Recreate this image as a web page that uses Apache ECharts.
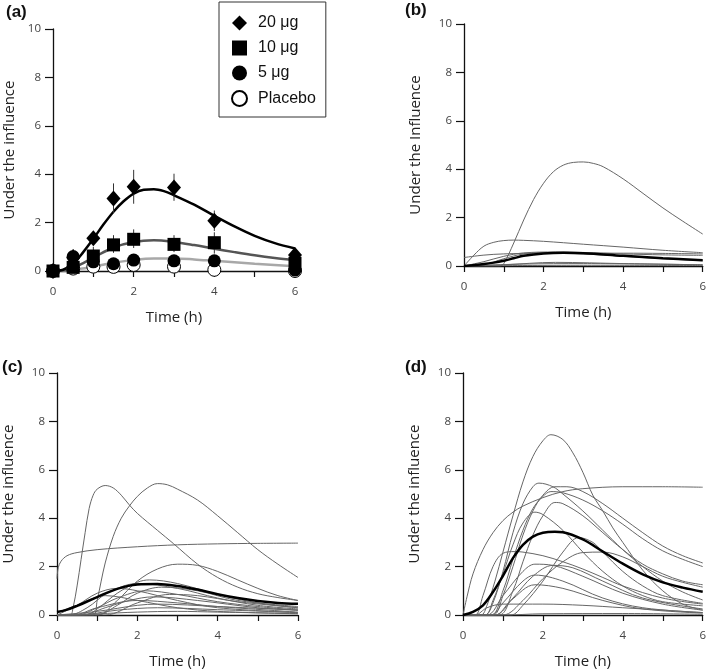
<!DOCTYPE html>
<html>
<head>
<meta charset="utf-8">
<script src="https://cdn.jsdelivr.net/npm/echarts@6/dist/echarts.min.js"></script>
<style>
html,body{margin:0;padding:0;background:#fff;}
#chart{width:709px;height:672px;}
</style>
</head>
<body>
<div id="chart"></div>
<script>
// ---------- Panel (a): observed means ----------
const timesA = [0, 0.5, 1, 1.5, 2, 3, 4, 6];
const dose20 = [0, 0.55, 1.35, 3.0, 3.48, 3.45, 2.08, 0.66];
const dose20Low = [0, 0.3, 1.1, 2.4, 2.78, 2.9, 1.65, 0.45];
const dose20High = [0, 0.9, 1.6, 3.62, 4.18, 4.02, 2.5, 0.85];
const dose10 = [0, 0.15, 0.62, 1.08, 1.31, 1.1, 1.17, 0.32];
const dose10Low = [0, 0.05, 0.3, 0.75, 0.95, 0.78, 0.72, 0.15];
const dose10High = [0, 0.3, 1.0, 1.48, 1.72, 1.48, 1.6, 0.5];
const dose5 = [0, 0.6, 0.38, 0.3, 0.45, 0.42, 0.42, 0.04];
const dose5Low = [0, 0.45, 0.2, 0.15, 0.28, 0.25, 0.25, 0.0];
const dose5High = [0, 0.9, 0.55, 0.45, 0.62, 0.6, 0.6, 0.15];
const placebo = [0, 0.1, 0.18, 0.17, 0.25, 0.18, 0.05, 0.0];
const placeboLow = [0, 0.05, 0.08, 0.08, 0.12, 0.08, 0.0, 0.0];
const placeboHigh = [0, 0.15, 0.28, 0.26, 0.38, 0.28, 0.12, 0.05];

// ---------- Panel (a): fitted curves [time, value] ----------
const fit20 = [[0,0],[0.25,0.05],[0.5,0.3],[0.75,0.78],[1,1.33],[1.25,1.92],[1.5,2.45],[1.75,2.88],[2,3.2],[2.25,3.36],[2.5,3.38],[2.75,3.3],[3,3.13],[3.5,2.74],[4,2.28],[4.5,1.84],[5,1.45],[5.5,1.15],[6,0.93]];
const fit10 = [[0,0],[0.25,0.03],[0.5,0.13],[0.75,0.33],[1,0.55],[1.5,0.97],[2,1.2],[2.5,1.27],[3,1.2],[3.5,1.07],[4,0.92],[4.5,0.78],[5,0.65],[5.5,0.54],[6,0.45]];
const fit5 = [[0,0],[0.5,0.05],[1,0.18],[1.5,0.34],[2,0.46],[2.5,0.52],[3,0.52],[3.5,0.48],[4,0.42],[5,0.3],[6,0.2]];

// ---------- Panel (b): individual curves ----------
const curvesB = [
  [[0,0],[0.9,0],[1,0.1],[1.25,0.95],[1.5,1.9],[1.75,2.75],[2,3.42],[2.25,3.9],[2.5,4.17],[2.75,4.28],[3,4.3],[3.25,4.24],[3.5,4.1],[4,3.6],[4.5,3.0],[5,2.4],[5.5,1.85],[6,1.32]],
  [[0,0],[0.25,0.45],[0.5,0.82],[0.75,0.98],[1,1.05],[1.25,1.07],[1.5,1.06],[2,1.02],[3,0.9],[4,0.78],[5,0.65],[6,0.55]],
  [[0,0.35],[0.5,0.45],[1,0.5],[2,0.53],[3,0.53],[4,0.53],[5,0.52],[6,0.5]],
  [[0,0],[0.5,0.18],[1,0.4],[1.5,0.54],[2.3,0.58],[3,0.56],[4,0.5],[5,0.46],[6,0.44]],
  [[0,0],[0.5,0.05],[1,0.3],[1.5,0.5],[2,0.55],[3,0.5],[4,0.4],[5,0.3],[6,0.22]],
  [[0,0],[1,0.05],[2.3,0.15],[4,0.1],[6,0.05]],
  [[0,0],[1.5,0.08],[3,0.1],[6,0.05]],
  [[0,0],[3,0.03],[6,0.02]]
];
const meanB = [[0,0],[0.5,0.08],[0.75,0.14],[1,0.22],[1.25,0.32],[1.5,0.42],[2,0.52],[2.5,0.55],[3,0.53],[4,0.42],[5,0.32],[6,0.24]];

// ---------- Panel (c): individual curves ----------
const curvesC = [
  [[0,0],[0.33,0],[0.4,0.3],[0.5,1.2],[0.6,2.3],[0.7,3.4],[0.8,4.4],[0.9,4.95],[1,5.2],[1.2,5.35],[1.4,5.25],[1.6,4.95],[1.8,4.55],[2,4.2],[2.5,3.5],[2.9,2.95],[3.5,2.1],[4,1.55],[4.5,1.15],[5,0.88],[5.5,0.72],[6,0.6]],
  [[0,0],[0.9,0],[1,0.6],[1.1,1.4],[1.2,2.15],[1.4,3.25],[1.6,4.0],[1.8,4.5],[2,4.9],[2.25,5.25],[2.5,5.43],[2.75,5.38],[3,5.2],[3.5,4.75],[4,4.1],[4.5,3.4],[5,2.7],[5.5,2.1],[6,1.55]],
  [[0,1.5],[0.03,1.95],[0.1,2.22],[0.25,2.45],[0.5,2.58],[1,2.7],[2,2.82],[3,2.9],[4,2.94],[5,2.96],[6,2.97]],
  [[0,0],[1,0],[1.5,0.6],[2,1.4],[2.5,1.9],[3,2.1],[3.5,2.05],[4,1.8],[4.5,1.45],[5,1.1],[5.5,0.8],[6,0.6]],
  [[0,0],[0.7,0],[1,0.25],[1.5,0.9],[2,1.35],[2.3,1.45],[3,1.3],[4,0.85],[5,0.5],[6,0.3]],
  [[0,0],[0.3,0],[0.75,0.3],[1.25,0.9],[2,1.3],[3,1.1],[4,0.7],[5,0.4],[6,0.25]],
  [[0,0],[0.5,0.4],[1,0.9],[1.5,1.1],[2,1.0],[3,0.6],[4,0.3],[6,0.1]],
  [[0,0],[1,0],[1.5,0.4],[2,0.9],[2.6,1.15],[3.5,1.0],[4.5,0.6],[6,0.35]],
  [[0,0],[0.5,0],[1,0.3],[1.5,0.7],[2.2,1.0],[3,0.85],[4,0.55],[5,0.35],[6,0.2]],
  [[0,0],[1.2,0],[2,0.5],[2.8,0.85],[3.5,0.8],[4.5,0.55],[6,0.3]],
  [[0,0],[0.6,0],[1.2,0.3],[1.8,0.6],[2.4,0.75],[3.5,0.6],[5,0.3],[6,0.2]],
  [[0,0],[0.4,0],[1,0.3],[2,0.6],[3,0.5],[4,0.35],[6,0.12]],
  [[0,0],[1,0.15],[2,0.4],[2.5,0.45],[4,0.35],[6,0.2]],
  [[0,0],[0.5,0],[1.5,0.2],[2.5,0.3],[4,0.22],[6,0.1]],
  [[0,0],[1,0.05],[2,0.12],[3,0.15],[4,0.12],[6,0.06]],
  [[0,0.1],[0.5,0.4],[1.2,0.8],[2,0.6],[3,0.3],[4,0.15],[6,0.05]]
];
const meanC = [[0,0.12],[0.25,0.22],[0.5,0.38],[1,0.74],[1.5,1.08],[2,1.26],[2.5,1.28],[3,1.2],[3.5,1.05],[4,0.86],[4.5,0.7],[5,0.58],[5.5,0.5],[6,0.46]];

// ---------- Panel (d): individual curves ----------
const curvesD = [
  [[0,0],[0.45,0],[0.6,0.4],[0.8,1.4],[1,2.6],[1.25,4.1],[1.5,5.5],[1.75,6.55],[2,7.2],[2.2,7.45],[2.5,7.25],[2.75,6.7],[3,5.9],[3.25,4.95],[3.5,4.3],[3.75,3.6],[4,3.0],[4.5,1.85],[5,1.0],[5.5,0.45],[6,0.2]],
  [[0,0],[0.1,0.75],[0.25,1.7],[0.5,2.7],[0.75,3.4],[1,3.9],[1.25,4.25],[1.5,4.5],[2,4.85],[2.5,5.1],[3,5.22],[4,5.3],[5,5.3],[6,5.28]],
  [[0,0],[0.55,0],[0.75,0.5],[1,1.8],[1.25,3.4],[1.5,4.6],[1.75,5.3],[1.9,5.45],[2.25,5.3],[2.5,5.0],[3,4.3],[3.5,3.5],[4,2.7],[4.5,2.0],[5,1.4],[5.5,0.95],[6,0.62]],
  [[0,0],[0.75,0],[1,0.8],[1.25,2.0],[1.5,3.3],[1.75,4.3],[2,4.95],[2.3,5.3],[2.6,5.3],[3,5.1],[3.5,4.6],[4,4.0],[4.5,3.4],[5,2.85],[5.5,2.45],[6,2.15]],
  [[0,0],[0.7,0],[1,1.0],[1.25,2.3],[1.5,3.5],[1.75,4.4],[2,4.9],[2.2,5.1],[2.5,5.05],[3,4.75],[3.5,4.3],[4,3.75],[4.5,3.15],[5,2.65],[5.5,2.3],[6,2.0]],
  [[0,0],[0.9,0],[1.25,1.0],[1.5,2.2],[1.75,3.3],[2,4.1],[2.3,4.65],[2.5,4.6],[3,4.1],[3.5,3.4],[4,2.7],[4.5,2.1],[5,1.7],[5.5,1.4],[6,1.25]],
  [[0,0],[0.55,0],[0.75,0.6],[1,1.7],[1.25,2.9],[1.5,3.8],[1.8,4.25],[2,4.15],[2.5,3.5],[3,2.6],[3.5,1.8],[4,1.2],[4.5,0.8],[5,0.55],[6,0.38]],
  [[0,0],[1.2,0],[1.5,0.4],[2,1.4],[2.5,2.6],[2.9,3.2],[3.25,3.0],[3.5,2.6],[4,1.8],[4.5,1.2],[5,0.8],[6,0.48]],
  [[0,0],[0.3,0],[0.5,0.8],[0.75,2.0],[1,2.55],[1.3,2.62],[1.5,2.6],[2,2.45],[2.5,2.2],[3,1.9],[3.5,1.55],[4,1.2],[5,0.7],[6,0.45]],
  [[0,0],[1,0],[1.5,0.6],[2,1.5],[2.5,2.2],[3,2.58],[3.5,2.6],[4,2.4],[4.5,2.0],[5,1.6],[5.5,1.35],[6,1.15]],
  [[0,0],[0.6,0],[1,0.8],[1.5,1.8],[1.8,2.1],[2.25,2.05],[3,1.6],[4,0.9],[5,0.45],[6,0.2]],
  [[0,0],[0.8,0],[1.25,0.7],[1.75,1.6],[2.25,2.05],[2.75,1.95],[3.5,1.4],[4.5,0.7],[6,0.25]],
  [[0,0],[0.7,0],[1,0.5],[1.5,1.4],[1.8,1.65],[2.5,1.4],[3.5,0.7],[4.5,0.3],[6,0.1]],
  [[0,0],[0.8,0],[1.2,0.6],[1.8,1.25],[2.5,1.1],[3.5,0.6],[4.5,0.25],[6,0.08]],
  [[0,0],[0.3,0],[0.6,0.3],[1,0.45],[2,0.45],[3,0.4],[4,0.3],[5,0.2],[6,0.1]],
  [[0,0],[1,0],[2,0.05],[4,0.06],[6,0.03]]
];
const meanD = [[0,0],[0.25,0.13],[0.5,0.4],[0.75,0.95],[1,1.62],[1.25,2.35],[1.5,2.9],[1.75,3.24],[2,3.4],[2.3,3.44],[2.5,3.42],[3,3.12],[3.5,2.62],[4,2.12],[4.5,1.68],[5,1.35],[5.5,1.13],[6,0.96]];

// ---------- Tick labels / texts ----------
const yTicks = [0, 2, 4, 6, 8, 10];
const xTickLabels = [0, 2, 4, 6];
const panelLabels = ['(a)', '(b)', '(c)', '(d)'];
const yTitles = ['Under the influence', 'Under the Influence', 'Under the influence', 'Under the influence'];
const xTitle = 'Time (h)';
const legendNames = ['20 μg', '10 μg', '5 μg', 'Placebo'];

// ---------- Layout ----------
const grids = [
  {left: 53, top: 29, width: 242, height: 242},
  {left: 464, top: 24, width: 242, height: 242},
  {left: 56, top: 373, width: 242, height: 242},
  {left: 463, top: 373, width: 242, height: 242}
];
const yNameGaps = [36, 41, 41, 41];
const labelPos = [[6, 4], [405, 2], [2, 359], [405, 359]];
const FONT = 'Open Sans';

const xAxes = grids.map((g, i) => ({
  type: 'value', gridIndex: i, min: 0, max: 6, interval: 1,
  name: xTitle, nameLocation: 'middle', nameGap: 39,
  nameTextStyle: {fontFamily: FONT, fontSize: 15, color: '#222'},
  axisLine: {lineStyle: {color: '#111', width: 1.3}},
  axisTick: {show: true, length: 6, lineStyle: {color: '#111', width: 1.2}},
  axisLabel: {fontFamily: FONT, fontSize: 11.5, color: '#444', margin: 15,
    formatter: v => xTickLabels.indexOf(v) >= 0 ? String(v) : ''},
  splitLine: {show: false}
}));
const yAxes = grids.map((g, i) => ({
  type: 'value', gridIndex: i, min: 0, max: 10, interval: 2,
  name: yTitles[i], nameLocation: 'middle', nameGap: yNameGaps[i],
  nameTextStyle: {fontFamily: FONT, fontSize: 15, color: '#222'},
  axisLine: {show: true, lineStyle: {color: '#111', width: 1.3}},
  axisTick: {show: true, length: 8, lineStyle: {color: '#111', width: 1.2}},
  axisLabel: {fontFamily: FONT, fontSize: 11.5, color: '#444', margin: 12,
    formatter: v => yTicks.indexOf(v) >= 0 ? String(v) : ''},
  splitLine: {show: false}
}));

const series = [];
function addLine(idx, data, color, width, z) {
  series.push({type: 'line', xAxisIndex: idx, yAxisIndex: idx, data: data,
    smooth: 0.35, showSymbol: false, silent: true, z: z || 2,
    lineStyle: {color: color, width: width, opacity: 1}});
}
// Panel a fitted curves
addLine(0, fit5, '#a8a8a8', 2.5, 2);
addLine(0, fit10, '#555555', 2.5, 2);
addLine(0, fit20, '#000000', 2.5, 3);

// Error bars
function errData(lo, hi) { return timesA.map((t, k) => [t, lo[k], hi[k]]); }
const errSets = [errData(placeboLow, placeboHigh), errData(dose5Low, dose5High), errData(dose10Low, dose10High), errData(dose20Low, dose20High)];
errSets.forEach(d => {
  series.push({type: 'custom', xAxisIndex: 0, yAxisIndex: 0, data: d, silent: true, z: 4,
    renderItem: (params, api) => {
      const p1 = api.coord([api.value(0), api.value(1)]);
      const p2 = api.coord([api.value(0), api.value(2)]);
      return {type: 'line', shape: {x1: p1[0], y1: p1[1], x2: p2[0], y2: p2[1]},
        style: {stroke: '#333', lineWidth: 1}};
    }
  });
});

function pts(vals) { return timesA.map((t, k) => [t, vals[k]]); }
series.push({type: 'scatter', name: legendNames[3], xAxisIndex: 0, yAxisIndex: 0, data: pts(placebo),
  symbol: 'circle', symbolSize: 13, z: 5, itemStyle: {color: '#fff', borderColor: '#000', borderWidth: 1, opacity: 1}});
series.push({type: 'scatter', name: legendNames[2], xAxisIndex: 0, yAxisIndex: 0, data: pts(dose5),
  symbol: 'circle', symbolSize: 13, z: 6, itemStyle: {color: '#000', opacity: 1}});
series.push({type: 'scatter', name: legendNames[1], xAxisIndex: 0, yAxisIndex: 0, data: pts(dose10),
  symbol: 'rect', symbolSize: 13, z: 7, itemStyle: {color: '#000', opacity: 1}});
series.push({type: 'scatter', name: legendNames[0], xAxisIndex: 0, yAxisIndex: 0, data: pts(dose20),
  symbol: 'diamond', symbolSize: [14, 16], z: 8, itemStyle: {color: '#000', opacity: 1}});

// Panels b, c, d
curvesB.forEach(c => addLine(1, c, '#666666', 1, 2));
addLine(1, meanB, '#000000', 2.5, 3);
curvesC.forEach(c => addLine(2, c, '#666666', 1, 2));
addLine(2, meanC, '#000000', 2.5, 3);
curvesD.forEach(c => addLine(3, c, '#666666', 1, 2));
addLine(3, meanD, '#000000', 2.5, 3);

const chart = echarts.init(document.getElementById('chart'), null, {renderer: 'canvas'});
chart.setOption({
  animation: false,
  backgroundColor: '#fff',
  grid: grids.map(g => Object.assign({containLabel: false}, g)),
  xAxis: xAxes,
  yAxis: yAxes,
  legend: {
    data: legendNames,
    orient: 'vertical', left: 219, top: 2,
    borderColor: '#333', borderWidth: 1,
    padding: [13, 10, 10, 12], itemGap: 9,
    itemWidth: 15, itemHeight: 15,
    selectedMode: false,
    textStyle: {fontFamily: 'Liberation Sans', fontSize: 16, color: '#111', padding: [0, 0, 0, 6]}
  },
  graphic: panelLabels.map((t, i) => ({
    type: 'text', left: labelPos[i][0], top: labelPos[i][1],
    style: {text: t, font: 'bold 17px "Liberation Sans"', fill: '#111'}
  })),
  series: series
});
</script>
</body>
</html>
